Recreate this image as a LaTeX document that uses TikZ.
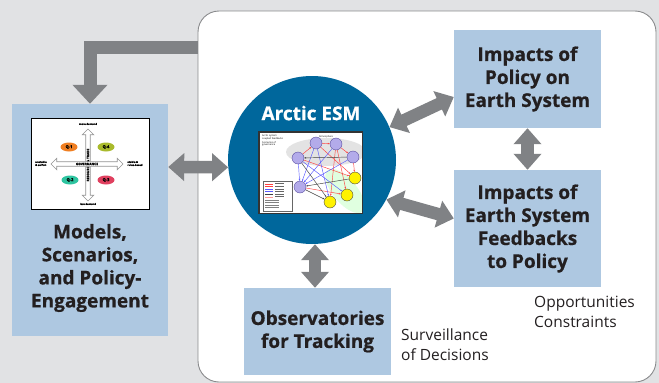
\documentclass[tikz,border=0pt]{standalone}
\usepackage{fontspec}
\setmainfont{Open Sans}[BoldFeatures={FakeBold=0.6}]
\usetikzlibrary{arrows.meta,calc,shapes.geometric,shapes.arrows}

\definecolor{bg}{HTML}{E1E2E4}
\definecolor{boxblue}{HTML}{AEC8E1}
\definecolor{arrowgray}{HTML}{808285}
\definecolor{framegray}{HTML}{8A8B8D}
\definecolor{esmblue}{HTML}{00679C}
\definecolor{ink}{HTML}{231F20}
\definecolor{qorange}{HTML}{F07F22}
\definecolor{qolive}{HTML}{A9BA2C}
\definecolor{qteal}{HTML}{2EC4A0}
\definecolor{qred}{HTML}{E0405F}
\definecolor{lavender}{HTML}{B3ABEA}
\definecolor{lavline}{HTML}{5B4FA0}
\definecolor{sun}{HTML}{FFF200}

\tikzset{
  panel/.style={fill=boxblue, draw=none, inner sep=0pt},
  paneltext/.style={text=ink, font=\bfseries\fontsize{19}{23}\selectfont, align=center, inner sep=0pt},
  flow/.style={draw=arrowgray, line width=12.5pt,
    {Triangle[length=16pt,width=27pt]}-{Triangle[length=16pt,width=27pt]}},
  elbow/.style={draw=arrowgray, line width=13pt, line join=miter,
    -{Triangle[length=19pt,width=34pt]}},
  note/.style={font=\fontsize{15.5}{20}\selectfont, text=ink, align=left,
    anchor=north west, inner sep=0pt},
  tiny/.style={font=\bfseries\fontsize{2.6}{3}\selectfont, inner sep=0pt, align=center},
  quad/.style={ellipse, minimum width=17pt, minimum height=9pt, inner sep=0pt,
    font=\bfseries\fontsize{4}{4}\selectfont},
  hollow/.style={double arrow, draw=gray!85, fill=white, line width=0.6pt,
    double arrow head extend=3.5pt, minimum width=10pt, inner sep=0.8pt},
  pcirc/.style={circle, fill=lavender, draw=lavline, line width=0.4pt, minimum size=12pt, inner sep=0pt},
  ycirc/.style={circle, fill=sun, draw=black!70, line width=0.4pt, minimum size=12pt, inner sep=0pt},
  rlink/.style={draw=red!75, line width=0.45pt, -{Stealth[length=2pt,width=1.6pt]}},
  blink/.style={draw=blue!65, line width=0.45pt, -{Stealth[length=2pt,width=1.6pt]}},
  klink/.style={draw=black!75, line width=0.45pt, -{Stealth[length=2pt,width=1.6pt]}},
}

\begin{document}
\begin{tikzpicture}[x=1pt, y=-1pt]
  % canvas
  \useasboundingbox (0,0) rectangle (659,383);
  \fill[bg] (0,0) rectangle (659,383);

  % white frame holding the model and its links
  \node[draw=framegray, fill=white, line width=0.9pt, rounded corners=21pt,
        minimum width=458pt, minimum height=371pt, inner sep=0pt]
        (frame) at (427,196.5) {};

  % panels
  \node[panel, minimum width=156pt, minimum height=232pt] (models) at (90,220) {};
  \node[paneltext] (modelslabel) at (90,268)
        {Models,\\Scenarios,\\and Policy-\\Engagement};

  \node[panel, minimum width=147pt, minimum height=98pt, paneltext] (pol) at (527.5,79)
        {Impacts of\\Policy on\\Earth System};

  \node[panel, minimum width=147pt, minimum height=117pt, paneltext] (feed) at (527.5,228.5)
        {Impacts of\\Earth System\\Feedbacks\\to Policy};

  \node[panel, minimum width=147pt, minimum height=87pt, paneltext] (obs) at (317.5,331.5)
        {Observatories\\for Tracking};

  % the Arctic ESM disc
  \node[circle, fill=esmblue, minimum size=168pt, inner sep=0pt] (esm) at (312,160) {};
  \node[text=white, font=\bfseries\fontsize{19}{23}\selectfont, inner sep=0pt]
        (esmlabel) at (311,113) {Arctic ESM};

  % side notes
  \node[note] (surv) at (401,328.5) {Surveillance\\of Decisions};
  \node[note] (opp) at (534,295.5) {Opportunities\\Constraints};

  % connectors
  \draw[elbow] ($(frame.north west)+(0,37)$) -| (models.north);
  \draw[flow] (models.east |- 0,167) -- (esm.185);
  \draw[flow] (esm.23) -- ($(pol.west)+(0,18)$);
  \draw[flow] (esm.-28) -- ($(feed.west)+(0,-10)$);
  \draw[flow] (pol.south) -- (feed.north);
  \draw[flow] (esm.south -| 315,0) -- (obs.north -| 315,0);

  % ---- scenario quadrant chart ----
  \node[draw=black, line width=0.8pt, fill=white, minimum width=118pt, minimum height=91pt,
        inner sep=0pt] (quadframe) at (90,163.5) {};
  \node[hollow, minimum height=72pt, rotate=90,
        font=\bfseries\fontsize{3.2}{3.2}\selectfont] (resaxis) at (88,165)
        {RESOURCES \& TRADE};
  \node[hollow, minimum height=72pt,
        font=\bfseries\fontsize{3.2}{3.2}\selectfont] (govaxis) at (87,164)
        {GOVERNANCE};
  \node[tiny] (moredem) at (88,124) {more demand};
  \node[tiny] (lessdem) at (88,204) {less demand};
  \node[tiny, align=left] (unstable) at (41,163.5) {unstable\\\& selfish};
  \node[tiny, align=left] (stable) at (135,163.5) {stable \&\\rules-based};
  \node[quad, fill=qorange] (q1) at (69,147) {Q-1};
  \node[quad, fill=qolive] (q4) at (106,147) {Q-4};
  \node[quad, fill=qteal] (q2) at (70,180) {Q-2};
  \node[quad, fill=qred] (q3) at (106,180) {Q-3};

  % ---- Arctic ESM system chart ----
  \node[draw=black!80, line width=0.8pt, fill=white, minimum width=103pt, minimum height=81pt,
        inner sep=0pt] (sysframe) at (310.5,172.5) {};
  \begin{scope}
    \clip (sysframe.north west) rectangle (sysframe.south east);
    \fill[gray!22] (326,152) ellipse [x radius=40, y radius=14];
    \fill[green!12, rotate around={-50:(345,191)}] (345,191) ellipse [x radius=27, y radius=12];
  \end{scope}
  \draw[black!80, line width=0.8pt] (sysframe.north west) rectangle (sysframe.south east);
  \node[tiny, font=\fontsize{2.4}{2.8}\selectfont, align=left, anchor=north west]
        (systitle) at (262,135) {Arctic system\\coupled feedbacks\\[0.6pt]Scenarios of\\governance};
  \node[tiny, font=\fontsize{2.4}{2.8}\selectfont] (atmo) at (326,136.5) {Atmosphere};

  \node[pcirc] (p1) at (316,143) {};
  \node[pcirc] (p2) at (336,144) {};
  \node[pcirc] (p3) at (353,157) {};
  \node[pcirc] (p4) at (298,158) {};
  \node[pcirc] (p5) at (300,187) {};
  \node[ycirc] (y1) at (355,178) {};
  \node[ycirc] (y2) at (347,195) {};
  \node[ycirc] (y3) at (330,202) {};

  \draw[rlink] (p1) -- (p2);
  \draw[rlink] (p2) -- (p3);
  \draw[rlink] (p1) -- (y1);
  \draw[rlink] (p2) -- (y2);
  \draw[rlink] (p2) -- (y3);
  \draw[rlink] (p3) -- (y1);
  \draw[rlink] (p4) -- (p1);
  \draw[rlink] (p4) -- (y1);
  \draw[rlink] (p5) -- (y2);
  \draw[blink] (p1) -- (p5);
  \draw[blink] (p2) -- (p5);
  \draw[blink] (p4) -- (p5);
  \draw[blink] (p4) -- (y2);
  \draw[blink] (p3) -- (p5);
  \draw[blink] (p1) -- (y3);
  \draw[klink] (p3) -- (p4);
  \draw[klink] (p5) -- (y3);
  \draw[klink] (p4) -- (y3);
  \draw[klink] (y1) -- (p5);

  % legend
  \node[draw=black!60, fill=white, line width=0.3pt, minimum width=29pt, minimum height=30pt,
        inner sep=0pt] (legend) at (278,196) {};
  \foreach \k/\c in {0/red!75,1/red!75,2/blue!65,3/blue!65,4/black!75,5/red!40}{
    \draw[\c, line width=0.4pt] ($(legend.north west)+(2,3+2.6*\k)$) -- ++(8,0);
    \fill[black!60] ($(legend.north west)+(12,2.6+2.6*\k)$) rectangle ++(9,0.8);
  }
  \foreach \k in {0,1,2,3}{
    \fill[black!50] ($(legend.north west)+(2,19+2.4*\k)$) rectangle ++(14,0.7);
  }
\end{tikzpicture}
\end{document}
